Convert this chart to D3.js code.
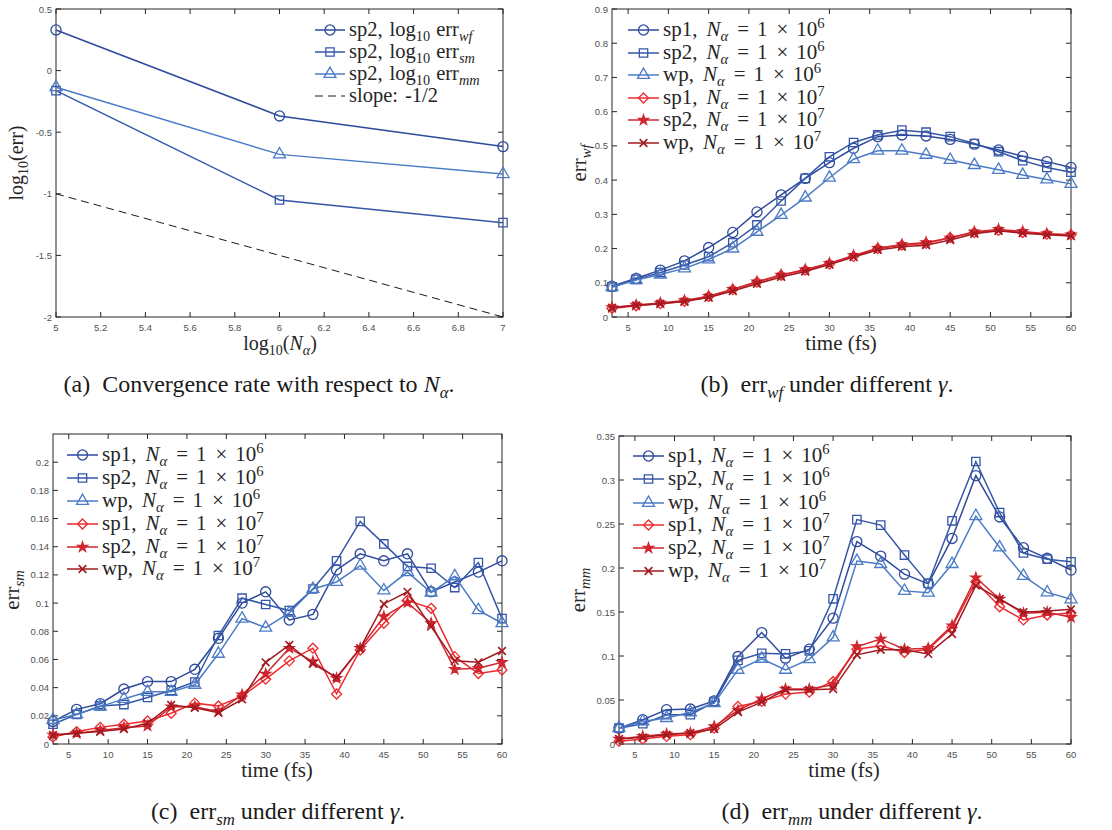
<!DOCTYPE html>
<html>
<head>
<meta charset="utf-8">
<script src="https://cdn.jsdelivr.net/npm/d3@7"></script>
<style>
  body { margin: 0; background: #fff; }
  text { white-space: pre; }
  .serif { font-family: "Liberation Serif", "DejaVu Serif", "Times New Roman", serif; }
  .sans { font-family: "Liberation Sans", Arial, sans-serif; }
</style>
</head>
<body>
<svg id="fig" width="1112" height="830"></svg>
<script>
// ---- data -------------------------------------------------------------
// (a) convergence in N_alpha (sp2)
const logN = [5, 6, 7];
const logErrWf = [0.33, -0.368, -0.617];
const logErrSm = [-0.163, -1.05, -1.234];
const logErrMm = [-0.135, -0.68, -0.84];
const slopeRef = [-1, -1.5, -2];

// time samples (fs)
const timeFs = [3, 6, 9, 12, 15, 18, 21, 24, 27, 30, 33, 36, 39, 42, 45, 48, 51, 54, 57, 60];

// (b) err_wf
const wfSp1E6 = [0.090, 0.113, 0.137, 0.164, 0.203, 0.247, 0.307, 0.357, 0.405, 0.451, 0.493, 0.527, 0.532, 0.529, 0.519, 0.505, 0.488, 0.470, 0.454, 0.437];
const wfSp2E6 = [0.088, 0.110, 0.130, 0.152, 0.176, 0.217, 0.269, 0.339, 0.405, 0.468, 0.510, 0.532, 0.546, 0.540, 0.527, 0.507, 0.483, 0.457, 0.437, 0.423];
const wfWpE6  = [0.087, 0.108, 0.124, 0.142, 0.168, 0.200, 0.249, 0.298, 0.349, 0.407, 0.461, 0.486, 0.486, 0.474, 0.459, 0.444, 0.430, 0.415, 0.402, 0.389];
const wfSp1E7 = [0.025, 0.033, 0.039, 0.046, 0.060, 0.080, 0.102, 0.122, 0.137, 0.155, 0.177, 0.200, 0.210, 0.215, 0.232, 0.247, 0.253, 0.247, 0.242, 0.240];
const wfSp2E7 = [0.028, 0.035, 0.041, 0.048, 0.061, 0.081, 0.103, 0.123, 0.139, 0.157, 0.180, 0.201, 0.212, 0.218, 0.231, 0.249, 0.256, 0.250, 0.243, 0.240];
const wfWpE7  = [0.027, 0.034, 0.039, 0.045, 0.057, 0.076, 0.097, 0.117, 0.133, 0.153, 0.175, 0.196, 0.205, 0.210, 0.225, 0.243, 0.252, 0.245, 0.240, 0.237];

// (c) err_sm
const smSp1E6 = [0.016, 0.0246, 0.0286, 0.039, 0.0443, 0.0443, 0.053, 0.075, 0.100, 0.108, 0.088, 0.092, 0.1235, 0.135, 0.130, 0.135, 0.108, 0.115, 0.122, 0.130];
const smSp2E6 = [0.014, 0.021, 0.027, 0.028, 0.033, 0.038, 0.044, 0.077, 0.1035, 0.099, 0.0947, 0.110, 0.130, 0.158, 0.142, 0.126, 0.1247, 0.111, 0.1288, 0.089];
const smWpE6  = [0.017, 0.021, 0.0265, 0.032, 0.037, 0.037, 0.042, 0.064, 0.089, 0.0826, 0.093, 0.110, 0.115, 0.1266, 0.109, 0.122, 0.1075, 0.119, 0.095, 0.0857];
const smSp1E7 = [0.005, 0.0088, 0.0118, 0.014, 0.0163, 0.0218, 0.029, 0.027, 0.034, 0.046, 0.059, 0.068, 0.0355, 0.0667, 0.0857, 0.102, 0.0963, 0.062, 0.050, 0.0525];
const smSp2E7 = [0.0064, 0.0076, 0.0095, 0.0116, 0.0128, 0.0265, 0.0265, 0.023, 0.035, 0.0497, 0.068, 0.0585, 0.0466, 0.068, 0.0904, 0.1003, 0.0857, 0.053, 0.0537, 0.058];
const smWpE7  = [0.0064, 0.0076, 0.0088, 0.0107, 0.0147, 0.0277, 0.0258, 0.0222, 0.0317, 0.058, 0.0703, 0.0568, 0.0473, 0.068, 0.0994, 0.108, 0.0833, 0.059, 0.058, 0.066];

// (d) err_mm
const mmSp1E6 = [0.018, 0.0276, 0.039, 0.0397, 0.049, 0.0994, 0.1266, 0.0975, 0.1077, 0.143, 0.230, 0.2135, 0.193, 0.182, 0.2336, 0.305, 0.258, 0.223, 0.211, 0.1977];
const mmSp2E6 = [0.018, 0.023, 0.0333, 0.0333, 0.0476, 0.095, 0.103, 0.1024, 0.1058, 0.165, 0.255, 0.2487, 0.2147, 0.1825, 0.2536, 0.321, 0.263, 0.217, 0.210, 0.207];
const mmWpE6  = [0.018, 0.0257, 0.0295, 0.036, 0.0465, 0.0843, 0.0968, 0.0843, 0.0964, 0.121, 0.208, 0.2045, 0.174, 0.172, 0.2045, 0.259, 0.2233, 0.191, 0.1723, 0.1644];
const mmSp1E7 = [0.003, 0.0057, 0.0087, 0.0106, 0.018, 0.0427, 0.0484, 0.0567, 0.059, 0.071, 0.1077, 0.1115, 0.104, 0.1077, 0.1327, 0.1844, 0.156, 0.141, 0.1466, 0.149];
const mmSp2E7 = [0.0057, 0.0087, 0.0113, 0.0125, 0.020, 0.0382, 0.0514, 0.0624, 0.0624, 0.0673, 0.1107, 0.1194, 0.1077, 0.1088, 0.1345, 0.189, 0.1648, 0.1485, 0.1497, 0.144];
const mmWpE7  = [0.0057, 0.0076, 0.0106, 0.0125, 0.017, 0.0363, 0.0476, 0.0616, 0.0616, 0.0624, 0.1013, 0.107, 0.107, 0.1024, 0.125, 0.180, 0.1648, 0.1497, 0.151, 0.153];

// tick labels
const ticksLogN = [5, 5.2, 5.4, 5.6, 5.8, 6, 6.2, 6.4, 6.6, 6.8, 7];
const ticksLogErr = [-2, -1.5, -1, -0.5, 0, 0.5];
const ticksTime = [5, 10, 15, 20, 25, 30, 35, 40, 45, 50, 55, 60];
const ticksWf = [0, 0.1, 0.2, 0.3, 0.4, 0.5, 0.6, 0.7, 0.8, 0.9];
const ticksSm = [0, 0.02, 0.04, 0.06, 0.08, 0.1, 0.12, 0.14, 0.16, 0.18, 0.2];
const ticksMm = [0, 0.05, 0.1, 0.15, 0.2, 0.25, 0.3, 0.35];

// ---- styles -----------------------------------------------------------
const C = {
  sp1e6: "#2e4a9c", sp2e6: "#3556a8", wpe6: "#4b7bc6",
  sp1e7: "#ee2a2e", sp2e7: "#d12630", wpe7: "#a01a20"
};

const svg = d3.select("#fig");

const symTypes = {
  circle: [d3.symbolCircle, 80, 0],
  square: [d3.symbolSquare, 70, 0],
  triangle: [d3.symbolTriangle, 62, 0],
  diamond: [d3.symbolDiamond2 || d3.symbolSquare, d3.symbolDiamond2 ? 64 : 60, d3.symbolDiamond2 ? 0 : 45],
  star: [d3.symbolStar, 30, 0],
  times: [d3.symbolTimes || d3.symbolCross, d3.symbolTimes ? 40 : 28, d3.symbolTimes ? 0 : 45]
};

function drawMarker(g, type, x, y, color) {
  const [sym, size, rot] = symTypes[type];
  const filled = type === "star";
  g.append("path")
    .attr("d", d3.symbol().type(sym).size(size)())
    .attr("transform", `translate(${x},${y}) rotate(${rot})`)
    .attr("fill", filled ? color : "none")
    .attr("stroke", color)
    .attr("stroke-width", type === "times" ? 1.6 : 1.3);
}

// rich text: parts = [{t, it, sub, sup, dx}]
function richText(g, x, y, parts, fs, opts = {}) {
  const t = g.append("text")
    .attr("class", "serif")
    .attr("x", x).attr("y", y)
    .style("font-size", fs + "px")
    .attr("fill", opts.fill || "#262626")
    .attr("text-anchor", opts.anchor || "start");
  if (opts.rotate) t.attr("transform", `rotate(-90,${x},${y})`);
  let shift = 0;
  parts.forEach(p => {
    const target = p.sub ? 0.24 * fs : p.sup ? -0.38 * fs : 0;
    const ts = t.append("tspan").text(p.t).attr("dy", target - shift);
    if (p.dx) ts.attr("dx", p.dx);
    if (p.it) ts.style("font-style", "italic");
    if (p.sub || p.sup) ts.style("font-size", (fs * 0.7) + "px");
    shift = target;
  });
  return t;
}

function fmt(v) { return String(+v.toFixed(3)); }

function drawFrame(g, x, y, xTicks, yTicks) {
  const [x0, x1] = x.range();
  const [y0, y1] = y.range();
  const tk = 5;
  const ax = g.append("g").attr("stroke", "#262626").attr("stroke-width", 1);
  ax.append("rect").attr("x", x0).attr("y", y1).attr("width", x1 - x0).attr("height", y0 - y1)
    .attr("fill", "none");
  xTicks.forEach(v => {
    const px = x(v);
    ax.append("line").attr("x1", px).attr("x2", px).attr("y1", y0).attr("y2", y0 - tk);
    ax.append("line").attr("x1", px).attr("x2", px).attr("y1", y1).attr("y2", y1 + tk);
  });
  yTicks.forEach(v => {
    const py = y(v);
    ax.append("line").attr("x1", x0).attr("x2", x0 + tk).attr("y1", py).attr("y2", py);
    ax.append("line").attr("x1", x1).attr("x2", x1 - tk).attr("y1", py).attr("y2", py);
  });
  const lab = g.append("g").attr("class", "sans").style("font-size", "9.5px").attr("fill", "#505050");
  xTicks.forEach(v => {
    lab.append("text").attr("x", x(v)).attr("y", y0 + 14).attr("text-anchor", "middle").text(fmt(v));
  });
  yTicks.forEach(v => {
    lab.append("text").attr("x", x0 - 4).attr("y", y(v) + 3.5).attr("text-anchor", "end").text(fmt(v));
  });
}

function drawSeries(g, x, y, xs, ys, color, marker, dash) {
  const line = d3.line().x((d, i) => x(xs[i])).y(d => y(d));
  g.append("path").datum(ys).attr("d", line)
    .attr("fill", "none").attr("stroke", color).attr("stroke-width", dash ? 1 : 1.5)
    .attr("stroke-dasharray", dash || null);
  if (marker) ys.forEach((v, i) => drawMarker(g, marker, x(xs[i]), y(v), color));
}

const nLabel = (name, exp) => [
  { t: name + "," }, { t: "N", it: true, dx: 9 }, { t: "α", it: true, sub: true },
  { t: "=", dx: 9 }, { t: "1", dx: 8 }, { t: "×", dx: 9 }, { t: "10", dx: 8 }, { t: exp, sup: true }
];

function drawLegend(g, items, lx0, lx1, rows, fs) {
  items.forEach((it, i) => {
    const yy = rows[i];
    g.append("line").attr("x1", lx0).attr("x2", lx1).attr("y1", yy).attr("y2", yy)
      .attr("stroke", it.color).attr("stroke-width", it.dash ? 1 : 1.5)
      .attr("stroke-dasharray", it.dash || null);
    if (it.marker) drawMarker(g, it.marker, (lx0 + lx1) / 2, yy, it.color);
    richText(g, lx1 + 4, yy + 6, it.label, fs);
  });
}

const timeSeries = (sets) => [
  { data: sets[0], color: C.sp1e6, marker: "circle", label: nLabel("sp1", "6") },
  { data: sets[1], color: C.sp2e6, marker: "square", label: nLabel("sp2", "6") },
  { data: sets[2], color: C.wpe6, marker: "triangle", label: nLabel("wp", "6") },
  { data: sets[3], color: C.sp1e7, marker: "diamond", label: nLabel("sp1", "7") },
  { data: sets[4], color: C.sp2e7, marker: "star", label: nLabel("sp2", "7") },
  { data: sets[5], color: C.wpe7, marker: "times", label: nLabel("wp", "7") }
];

// ---- panel (a) --------------------------------------------------------
{
  const g = svg.append("g");
  const x = d3.scaleLinear().domain([5, 7]).range([56, 503]);
  const y = d3.scaleLinear().domain([-2, 0.5]).range([317, 9]);
  drawFrame(g, x, y, ticksLogN, ticksLogErr);
  const errSub = (s) => [{ t: "sp2," }, { t: "log", dx: 7 }, { t: "10", sub: true }, { t: "err", dx: 6 }, { t: s, it: true, sub: true }];
  const items = [
    { data: logErrWf, color: C.sp1e6, marker: "circle", label: errSub("wf") },
    { data: logErrSm, color: C.sp2e6, marker: "square", label: errSub("sm") },
    { data: logErrMm, color: C.wpe6, marker: "triangle", label: errSub("mm") },
    { data: slopeRef, color: "#1a1a1a", dash: "8,5", label: [{ t: "slope:" }, { t: "-1/2", dx: 7 }] }
  ];
  items.forEach(s => drawSeries(g, x, y, logN, s.data, s.color, s.marker, s.dash));
  drawLegend(g, items, 315, 345, [30, 52, 74, 96], 20.5);
  richText(g, 23, 163, [{ t: "log" }, { t: "10", sub: true }, { t: "(err)" }], 20, { anchor: "middle", rotate: true });
  richText(g, 280, 350, [{ t: "log" }, { t: "10", sub: true }, { t: "(" }, { t: "N", it: true }, { t: "α", it: true, sub: true }, { t: ")" }], 20, { anchor: "middle" });
  richText(g, 259, 392, [{ t: "(a)  Convergence rate with respect to " }, { t: "N", it: true }, { t: "α", it: true, sub: true }, { t: "." }], 24, { anchor: "middle", fill: "#1a1a1a" });
}

// ---- time panels ------------------------------------------------------
function timePanel(cfg) {
  const g = svg.append("g");
  const x = d3.scaleLinear().domain([3, 60]).range(cfg.xr);
  const y = d3.scaleLinear().domain(cfg.yd).range(cfg.yr);
  drawFrame(g, x, y, ticksTime, cfg.yTicks);
  const items = timeSeries(cfg.sets);
  items.forEach(s => drawSeries(g, x, y, timeFs, s.data, s.color, s.marker));
  drawLegend(g, items, cfg.leg[0], cfg.leg[1], cfg.rows, 21);
  richText(g, cfg.ylab[0], cfg.ylab[1], [{ t: "err" }, { t: cfg.sub, it: true, sub: true }], 21, { anchor: "middle", rotate: true });
  richText(g, cfg.xlab[0], cfg.xlab[1], [{ t: "time (fs)" }], 21, { anchor: "middle" });
  richText(g, cfg.cap[0], cfg.cap[1], [{ t: cfg.capTag + "  err" }, { t: cfg.sub, it: true, sub: true }, { t: " under different " }, { t: "γ", it: true }, { t: "." }], 24, { anchor: "middle", fill: "#1a1a1a" });
}

timePanel({
  xr: [612, 1071], yd: [0, 0.9], yr: [317, 9], yTicks: ticksWf,
  sets: [wfSp1E6, wfSp2E6, wfWpE6, wfSp1E7, wfSp2E7, wfWpE7],
  leg: [628, 659], rows: [30, 53, 75, 98, 120, 143],
  sub: "wf", ylab: [586, 163], xlab: [841, 350], cap: [827, 392], capTag: "(b)"
});

timePanel({
  xr: [53, 502], yd: [0, 0.22], yr: [744, 434], yTicks: ticksSm,
  sets: [smSp1E6, smSp2E6, smWpE6, smSp1E7, smSp2E7, smWpE7],
  leg: [67, 98], rows: [455, 478, 501, 524, 547, 569],
  sub: "sm", ylab: [19, 590], xlab: [277, 777], cap: [278, 819], capTag: "(c)"
});

timePanel({
  xr: [619, 1071], yd: [0, 0.35], yr: [744, 436], yTicks: ticksMm,
  sets: [mmSp1E6, mmSp2E6, mmWpE6, mmSp1E7, mmSp2E7, mmWpE7],
  leg: [633, 664], rows: [456, 479, 503, 525, 548, 571],
  sub: "mm", ylab: [585, 590], xlab: [844, 777], cap: [852, 819], capTag: "(d)"
});
</script>
</body>
</html>
